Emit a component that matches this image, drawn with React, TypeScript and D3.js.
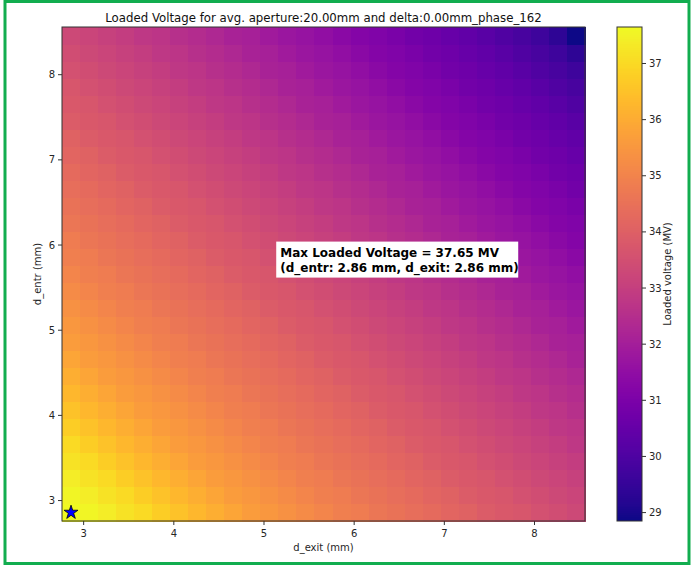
import React from 'react';
import * as d3 from 'd3';

// grid coordinates (mm)
const dExit = [2.86, 3.06, 3.26, 3.46, 3.66, 3.86, 4.06, 4.26, 4.46, 4.66, 4.86, 5.06, 5.26, 5.46, 5.66, 5.86, 6.06, 6.26, 6.46, 6.66, 6.86, 7.06, 7.26, 7.46, 7.66, 7.86, 8.06, 8.26, 8.46];
const dEntr = [2.86, 3.06, 3.26, 3.46, 3.66, 3.86, 4.06, 4.26, 4.46, 4.66, 4.86, 5.06, 5.26, 5.46, 5.66, 5.86, 6.06, 6.26, 6.46, 6.66, 6.86, 7.06, 7.26, 7.46, 7.66, 7.86, 8.06, 8.26, 8.46];

// loaded voltage (MV), one row per d_entr value, columns follow dExit
const voltage = [
  [37.65, 37.55, 37.4, 37.2, 37.0, 36.75, 36.5, 36.25, 36.05, 35.85, 35.65, 35.5, 35.35, 35.2, 35.05, 34.9, 34.8, 34.65, 34.55, 34.4, 34.3, 34.15, 34.05, 33.9, 33.8, 33.7, 33.55, 33.45, 33.3],
  [37.55, 37.4, 37.2, 37.0, 36.75, 36.5, 36.25, 36.05, 35.85, 35.65, 35.5, 35.35, 35.2, 35.05, 34.9, 34.8, 34.65, 34.55, 34.4, 34.3, 34.15, 34.05, 33.9, 33.8, 33.7, 33.55, 33.45, 33.3, 33.2],
  [37.4, 37.2, 37.0, 36.75, 36.5, 36.25, 36.05, 35.85, 35.65, 35.5, 35.35, 35.2, 35.05, 34.9, 34.8, 34.65, 34.55, 34.4, 34.3, 34.15, 34.05, 33.9, 33.8, 33.7, 33.55, 33.45, 33.3, 33.2, 33.05],
  [37.2, 37.0, 36.75, 36.5, 36.25, 36.05, 35.85, 35.65, 35.5, 35.35, 35.2, 35.05, 34.9, 34.8, 34.65, 34.55, 34.4, 34.3, 34.15, 34.05, 33.9, 33.8, 33.7, 33.55, 33.45, 33.3, 33.2, 33.05, 32.95],
  [37.0, 36.75, 36.5, 36.25, 36.05, 35.85, 35.65, 35.5, 35.35, 35.2, 35.05, 34.9, 34.8, 34.65, 34.55, 34.4, 34.3, 34.15, 34.05, 33.9, 33.8, 33.7, 33.55, 33.45, 33.3, 33.2, 33.05, 32.95, 32.8],
  [36.75, 36.5, 36.25, 36.05, 35.85, 35.65, 35.5, 35.35, 35.2, 35.05, 34.9, 34.8, 34.65, 34.55, 34.4, 34.3, 34.15, 34.05, 33.9, 33.8, 33.7, 33.55, 33.45, 33.3, 33.2, 33.05, 32.95, 32.8, 32.7],
  [36.5, 36.25, 36.05, 35.85, 35.65, 35.5, 35.35, 35.2, 35.05, 34.9, 34.8, 34.65, 34.55, 34.4, 34.3, 34.15, 34.05, 33.9, 33.8, 33.7, 33.55, 33.45, 33.3, 33.2, 33.05, 32.95, 32.8, 32.7, 32.55],
  [36.25, 36.05, 35.85, 35.65, 35.5, 35.35, 35.2, 35.05, 34.9, 34.8, 34.65, 34.55, 34.4, 34.3, 34.15, 34.05, 33.9, 33.8, 33.7, 33.55, 33.45, 33.3, 33.2, 33.05, 32.95, 32.8, 32.7, 32.55, 32.45],
  [36.05, 35.85, 35.65, 35.5, 35.35, 35.2, 35.05, 34.9, 34.8, 34.65, 34.55, 34.4, 34.3, 34.15, 34.05, 33.9, 33.8, 33.7, 33.55, 33.45, 33.3, 33.2, 33.05, 32.95, 32.8, 32.7, 32.55, 32.45, 32.3],
  [35.85, 35.65, 35.5, 35.35, 35.2, 35.05, 34.9, 34.8, 34.65, 34.55, 34.4, 34.3, 34.15, 34.05, 33.9, 33.8, 33.7, 33.55, 33.45, 33.3, 33.2, 33.05, 32.95, 32.8, 32.7, 32.55, 32.45, 32.3, 32.15],
  [35.65, 35.5, 35.35, 35.2, 35.05, 34.9, 34.8, 34.65, 34.55, 34.4, 34.3, 34.15, 34.05, 33.9, 33.8, 33.7, 33.55, 33.45, 33.3, 33.2, 33.05, 32.95, 32.8, 32.7, 32.55, 32.45, 32.3, 32.15, 32.05],
  [35.5, 35.35, 35.2, 35.05, 34.9, 34.8, 34.65, 34.55, 34.4, 34.3, 34.15, 34.05, 33.9, 33.8, 33.7, 33.55, 33.45, 33.3, 33.2, 33.05, 32.95, 32.8, 32.7, 32.55, 32.45, 32.3, 32.15, 32.05, 31.9],
  [35.35, 35.2, 35.05, 34.9, 34.8, 34.65, 34.55, 34.4, 34.3, 34.15, 34.05, 33.9, 33.8, 33.7, 33.55, 33.45, 33.3, 33.2, 33.05, 32.95, 32.8, 32.7, 32.55, 32.45, 32.3, 32.15, 32.05, 31.9, 31.75],
  [35.2, 35.05, 34.9, 34.8, 34.65, 34.55, 34.4, 34.3, 34.15, 34.05, 33.9, 33.8, 33.7, 33.55, 33.45, 33.3, 33.2, 33.05, 32.95, 32.8, 32.7, 32.55, 32.45, 32.3, 32.15, 32.05, 31.9, 31.75, 31.65],
  [35.05, 34.9, 34.8, 34.65, 34.55, 34.4, 34.3, 34.15, 34.05, 33.9, 33.8, 33.7, 33.55, 33.45, 33.3, 33.2, 33.05, 32.95, 32.8, 32.7, 32.55, 32.45, 32.3, 32.15, 32.05, 31.9, 31.75, 31.65, 31.5],
  [34.9, 34.8, 34.65, 34.55, 34.4, 34.3, 34.15, 34.05, 33.9, 33.8, 33.7, 33.55, 33.45, 33.3, 33.2, 33.05, 32.95, 32.8, 32.7, 32.55, 32.45, 32.3, 32.15, 32.05, 31.9, 31.75, 31.65, 31.5, 31.35],
  [34.8, 34.65, 34.55, 34.4, 34.3, 34.15, 34.05, 33.9, 33.8, 33.7, 33.55, 33.45, 33.3, 33.2, 33.05, 32.95, 32.8, 32.7, 32.55, 32.45, 32.3, 32.15, 32.05, 31.9, 31.75, 31.65, 31.5, 31.35, 31.2],
  [34.65, 34.55, 34.4, 34.3, 34.15, 34.05, 33.9, 33.8, 33.7, 33.55, 33.45, 33.3, 33.2, 33.05, 32.95, 32.8, 32.7, 32.55, 32.45, 32.3, 32.15, 32.05, 31.9, 31.75, 31.65, 31.5, 31.35, 31.2, 31.1],
  [34.55, 34.4, 34.3, 34.15, 34.05, 33.9, 33.8, 33.7, 33.55, 33.45, 33.3, 33.2, 33.05, 32.95, 32.8, 32.7, 32.55, 32.45, 32.3, 32.15, 32.05, 31.9, 31.75, 31.65, 31.5, 31.35, 31.2, 31.1, 30.95],
  [34.4, 34.3, 34.15, 34.05, 33.9, 33.8, 33.7, 33.55, 33.45, 33.3, 33.2, 33.05, 32.95, 32.8, 32.7, 32.55, 32.45, 32.3, 32.15, 32.05, 31.9, 31.75, 31.65, 31.5, 31.35, 31.2, 31.1, 30.95, 30.8],
  [34.3, 34.15, 34.05, 33.9, 33.8, 33.7, 33.55, 33.45, 33.3, 33.2, 33.05, 32.95, 32.8, 32.7, 32.55, 32.45, 32.3, 32.15, 32.05, 31.9, 31.75, 31.65, 31.5, 31.35, 31.2, 31.1, 30.95, 30.8, 30.7],
  [34.15, 34.05, 33.9, 33.8, 33.7, 33.55, 33.45, 33.3, 33.2, 33.05, 32.95, 32.8, 32.7, 32.55, 32.45, 32.3, 32.15, 32.05, 31.9, 31.75, 31.65, 31.5, 31.35, 31.2, 31.1, 30.95, 30.8, 30.7, 30.55],
  [34.05, 33.9, 33.8, 33.7, 33.55, 33.45, 33.3, 33.2, 33.05, 32.95, 32.8, 32.7, 32.55, 32.45, 32.3, 32.15, 32.05, 31.9, 31.75, 31.65, 31.5, 31.35, 31.2, 31.1, 30.95, 30.8, 30.7, 30.55, 30.4],
  [33.9, 33.8, 33.7, 33.55, 33.45, 33.3, 33.2, 33.05, 32.95, 32.8, 32.7, 32.55, 32.45, 32.3, 32.15, 32.05, 31.9, 31.75, 31.65, 31.5, 31.35, 31.2, 31.1, 30.95, 30.8, 30.7, 30.55, 30.4, 30.25],
  [33.8, 33.7, 33.55, 33.45, 33.3, 33.2, 33.05, 32.95, 32.8, 32.7, 32.55, 32.45, 32.3, 32.15, 32.05, 31.9, 31.75, 31.65, 31.5, 31.35, 31.2, 31.1, 30.95, 30.8, 30.7, 30.55, 30.4, 30.25, 30.05],
  [33.7, 33.55, 33.45, 33.3, 33.2, 33.05, 32.95, 32.8, 32.7, 32.55, 32.45, 32.3, 32.15, 32.05, 31.9, 31.75, 31.65, 31.5, 31.35, 31.2, 31.1, 30.95, 30.8, 30.7, 30.55, 30.4, 30.25, 30.05, 29.85],
  [33.55, 33.45, 33.3, 33.2, 33.05, 32.95, 32.8, 32.7, 32.55, 32.45, 32.3, 32.15, 32.05, 31.9, 31.75, 31.65, 31.5, 31.35, 31.2, 31.1, 30.95, 30.8, 30.7, 30.55, 30.4, 30.25, 30.05, 29.85, 29.65],
  [33.45, 33.3, 33.2, 33.05, 32.95, 32.8, 32.7, 32.55, 32.45, 32.3, 32.15, 32.05, 31.9, 31.75, 31.65, 31.5, 31.35, 31.2, 31.1, 30.95, 30.8, 30.7, 30.55, 30.4, 30.25, 30.05, 29.85, 29.65, 29.35],
  [33.3, 33.2, 33.05, 32.95, 32.8, 32.7, 32.55, 32.45, 32.3, 32.15, 32.05, 31.9, 31.75, 31.65, 31.5, 31.35, 31.2, 31.1, 30.95, 30.8, 30.7, 30.55, 30.4, 30.25, 30.05, 29.85, 29.65, 29.35, 28.85],
];

const xTicks = [3, 4, 5, 6, 7, 8];
const yTicks = [3, 4, 5, 6, 7, 8];
const cbTicks = [29, 30, 31, 32, 33, 34, 35, 36, 37];

const title = 'Loaded Voltage for avg. aperture:20.00mm and delta:0.00mm_phase_162';
const maxExit = 2.86;
const maxEntr = 2.86;
const maxValue = 37.65;
// where the annotation box sits (data coords)
const noteX = 5.18;
const noteY = 5.97;

const W = 692;
const H = 566;
const font = '"DejaVu Sans", sans-serif';

export default function App() {
  const plot = { left: 62, right: 585, top: 27, bottom: 521 };
  const half = (dExit[1] - dExit[0]) / 2;

  const x = d3.scaleLinear()
    .domain([dExit[0] - half, dExit[dExit.length - 1] + half])
    .range([plot.left, plot.right]);
  const y = d3.scaleLinear()
    .domain([dEntr[0] - half, dEntr[dEntr.length - 1] + half])
    .range([plot.bottom, plot.top]);

  const flat = voltage.flat();
  const [vMin, vMax] = d3.extent(flat) as [number, number];
  const color = d3.scaleSequential(d3.interpolatePlasma).domain([vMin, vMax]);

  const cb = { left: 617, right: 642 };
  const cbY = d3.scaleLinear().domain([vMin, vMax]).range([plot.bottom, plot.top]);
  const cbSteps = d3.range(plot.top, plot.bottom, 1);

  const star = d3.symbol().type(d3.symbolStar).size(60)();

  const tickColor = '#262626';

  return (
    <svg width={W} height={H} style={{ position: 'absolute', left: 0, top: 0, background: '#fff' }} fontFamily={font}>
      <rect x={5} y={1.5} width={684} height={562} fill="none" stroke="#12ad4f" strokeWidth={3} />

      <text x={(plot.left + plot.right) / 2} y={22} textAnchor="middle" fontSize={11.75} fill="#111">{title}</text>

      {/* heatmap cells */}
      <g shapeRendering="crispEdges">
        {voltage.map((row, i) =>
          row.map((v, j) => {
            const x0 = x(dExit[j] - half);
            const x1 = x(dExit[j] + half);
            const y0 = y(dEntr[i] + half);
            const y1 = y(dEntr[i] - half);
            return (
              <rect key={`${i}-${j}`} x={x0} y={y0} width={x1 - x0 + 0.5} height={y1 - y0 + 0.5} fill={color(v)} />
            );
          })
        )}
      </g>

      <rect x={plot.left} y={plot.top} width={plot.right - plot.left} height={plot.bottom - plot.top}
        fill="none" stroke="#333" strokeWidth={1} />

      {/* x axis */}
      {xTicks.map(t => (
        <g key={`x${t}`} transform={`translate(${x(t)},${plot.bottom})`}>
          <line y2={4} stroke="#333" />
          <text y={16} textAnchor="middle" fontSize={10} fill={tickColor}>{t}</text>
        </g>
      ))}
      <text x={(plot.left + plot.right) / 2} y={551} textAnchor="middle" fontSize={10} fill={tickColor}>d_exit (mm)</text>

      {/* y axis */}
      {yTicks.map(t => (
        <g key={`y${t}`} transform={`translate(${plot.left},${y(t)})`}>
          <line x2={-4} stroke="#333" />
          <text x={-7} dy="0.35em" textAnchor="end" fontSize={10} fill={tickColor}>{t}</text>
        </g>
      ))}
      <text transform={`translate(41,${(plot.top + plot.bottom) / 2}) rotate(-90)`} textAnchor="middle" fontSize={10} fill={tickColor}>d_entr (mm)</text>

      {/* max marker */}
      <path d={star ?? ''} transform={`translate(${x(maxExit)},${y(maxEntr)})`} fill="#0000ff" stroke="#000" strokeWidth={0.8} />

      {/* annotation */}
      <g transform={`translate(${x(noteX)},${y(noteY)})`}>
        <rect x={-4} y={-6} width={242} height={36} fill="#fff" />
        <text x={0} y={9} fontSize={12} fontWeight="bold" fill="#000">{`Max Loaded Voltage = ${maxValue.toFixed(2)} MV`}</text>
        <text x={0} y={24} fontSize={12} fontWeight="bold" fill="#000">{`(d_entr: ${maxEntr.toFixed(2)} mm, d_exit: ${maxExit.toFixed(2)} mm)`}</text>
      </g>

      {/* colorbar */}
      <g shapeRendering="crispEdges">
        {cbSteps.map(py => (
          <rect key={py} x={cb.left} y={py} width={cb.right - cb.left} height={1.2} fill={color(cbY.invert(py + 0.5))} />
        ))}
      </g>
      <rect x={cb.left} y={plot.top} width={cb.right - cb.left} height={plot.bottom - plot.top} fill="none" stroke="#333" strokeWidth={1} />
      {cbTicks.map(t => (
        <g key={`c${t}`} transform={`translate(${cb.right},${cbY(t)})`}>
          <line x2={4} stroke="#333" />
          <text x={7} dy="0.35em" fontSize={10} fill={tickColor}>{t}</text>
        </g>
      ))}
      <text transform={`translate(671,${(plot.top + plot.bottom) / 2}) rotate(-90)`} textAnchor="middle" fontSize={10} fill={tickColor}>Loaded voltage (MV)</text>
    </svg>
  );
}
